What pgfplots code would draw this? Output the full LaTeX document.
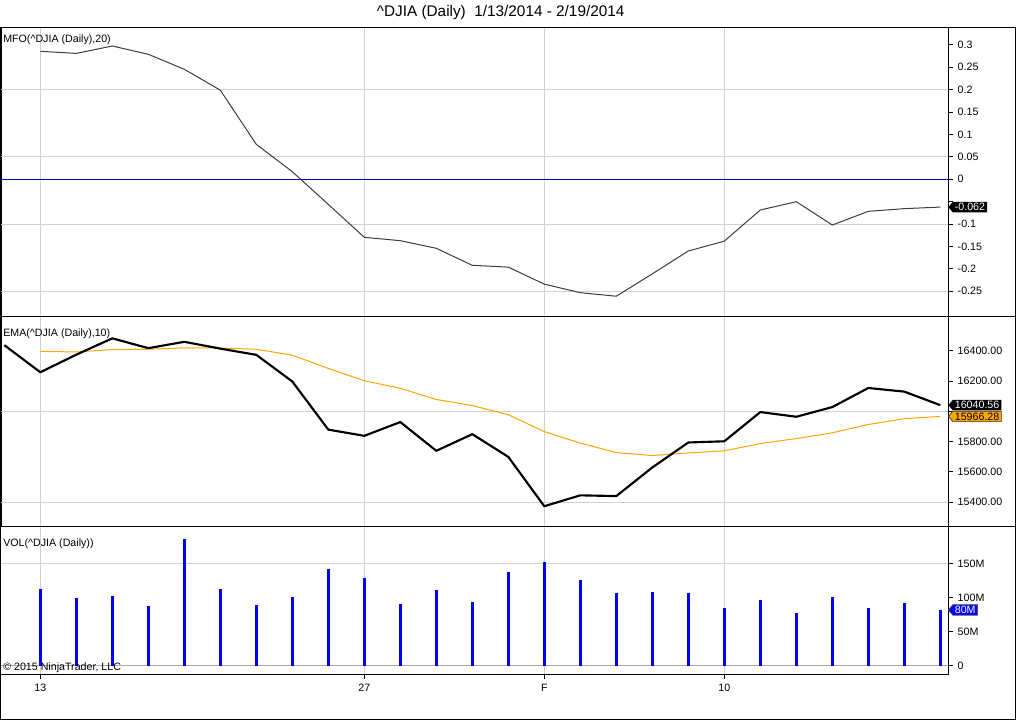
\documentclass[border=0pt]{standalone}
\usepackage{pgfplots}
\pgfplotsset{compat=1.18}
\usepackage{fontspec}
\setmainfont{Liberation Sans}
\usetikzlibrary{shapes.symbols}
\definecolor{gridc}{RGB}{212,208,200}
\definecolor{emaor}{RGB}{255,165,0}
\definecolor{zerog}{RGB}{170,170,170}
\definecolor{mfol}{RGB}{60,60,60}
\definecolor{zblue}{RGB}{0,0,200}
\definecolor{vblue}{RGB}{0,0,255}
\newcommand{\ticksize}{\fontsize{8}{9.6}\selectfont}
\tikzset{
  tag/.style={signal, signal to=west, signal pointer angle=100, inner xsep=1.5pt, inner ysep=1.1pt, font=\ticksize, anchor=west, line width=0.5pt},
}
\pgfplotsset{
  panel/.style={
    scale only axis, width=710.25pt, anchor=north west,
    xmin=-1.0917, xmax=25.214,
    axis line style={line width=0.75pt},
    xtick={0,9,14,19}, xmajorgrids,
    major grid style={color=gridc, line width=0.75pt},
    ytick pos=right, yticklabel pos=right,
    tick align=outside, major tick length=3.75pt,
    every tick/.style={black, line width=0.75pt},
    tick label style={font=\ticksize},
    /pgf/number format/assume math mode=true,
    scaled y ticks=false, scaled x ticks=false,
    clip=false,
    extra y tick labels={},
    extra y tick style={grid=major, tick style={draw=none}},
  },
  notx/.style={xticklabels={}, xtick style={draw=none}},
}
\begin{document}
\begin{tikzpicture}
\path[use as bounding box] (0,0) rectangle (762pt,-540pt);
\node[font=\fontsize{11.5}{13}\selectfont] at (375.5pt,-9.2pt) {\^{}DJIA (Daily)\ \ 1/13/2014 - 2/19/2014};

% ---------- MFO panel ----------
\begin{axis}[panel, notx, at={(0.75pt,-20.625pt)}, height=216.375pt,
  ymin=-0.3051, ymax=0.3388,
  ytick={-0.25,-0.2,-0.15,-0.1,-0.05,0,0.05,0.1,0.15,0.2,0.25,0.3},
  yticklabels={-0.25,-0.2,-0.15,-0.1,{},0,0.05,0.1,0.15,0.2,0.25,0.3},
  extra y ticks={-0.25,-0.1,0.05,0.2}]
\addplot[zblue, line width=0.75pt] coordinates {(-1.0917,0) (25.214,0)};
\addplot[mfol, line width=0.75pt] coordinates {
(0,0.2857) (1,0.281) (2,0.2975) (3,0.279) (4,0.2455) (5,0.199) (6,0.078) (7,0.017)
(8,-0.056) (9,-0.1295) (10,-0.137) (11,-0.154) (12,-0.192) (13,-0.196) (14,-0.234)
(15,-0.253) (16,-0.261) (17,-0.211) (18,-0.160) (19,-0.138) (20,-0.0685) (21,-0.050)
(22,-0.102) (23,-0.0715) (24,-0.0655) (25,-0.062)};
\node[tag, fill=black, text=white] at (axis cs:25.214,-0.062) {-0.062};
\end{axis}

% ---------- EMA / price panel ----------
\begin{axis}[panel, notx, at={(0.75pt,-237pt)}, height=157.5pt,
  ymin=15242.4, ymax=16629.5,
  ytick={15400,15600,15800,16000,16200,16400},
  yticklabels={15400.00,15600.00,15800.00,{},16200.00,16400.00},
  extra y ticks={15400,16000}]
\addplot[emaor, line width=0.75pt] coordinates {
(0,16396) (1,16392) (2,16408) (3,16410) (4,16419) (5,16418) (6,16410) (7,16371)
(8,16283) (9,16202) (10,16152) (11,16078) (12,16038) (13,15977) (14,15866)
(15,15790) (16,15727) (17,15708) (18,15725) (19,15739) (20,15787) (21,15820)
(22,15858) (23,15913) (24,15951) (25,15966.28)};
\addplot[black, line width=1.6pt, line join=round] coordinates {
(-1,16437) (0,16258) (1,16374) (2,16482) (3,16417) (4,16459) (5,16414) (6,16373)
(7,16197) (8,15879) (9,15838) (10,15929) (11,15739) (12,15849) (13,15699)
(14,15373) (15,15445) (16,15440) (17,15629) (18,15794) (19,15802) (20,15995)
(21,15964) (22,16028) (23,16154) (24,16130) (25,16040.56)};
\node[tag, fill=black, text=white] at (axis cs:25.214,16040.56) {16040.56};
\node[tag, fill=emaor, draw=black!80, text=black] at (axis cs:25.214,15966.28) {15966.28};
\end{axis}

% ---------- Volume panel ----------
\begin{axis}[panel, at={(0.75pt,-394.5pt)}, height=111.2pt,
  ymin=-12.6, ymax=204.8,
  ytick={0,50,100,150}, yticklabels={0,50M,100M,150M},
  extra y ticks={150},
  xticklabels={13,27,F,10}, xtick pos=bottom]
\addplot[zerog, line width=1pt] coordinates {(-1.0917,0) (25.214,0)};
\addplot[ycomb, vblue, line width=2.25pt] coordinates {
(0,112.5) (1,99.3) (2,102.2) (3,87.5) (4,185.8) (5,112.5) (6,89) (7,100.7)
(8,141.8) (9,128.6) (10,90.5) (11,111) (12,93.4) (13,137.4) (14,152)
(15,125.7) (16,106.6) (17,108) (18,106.6) (19,84.6) (20,96.3) (21,77.3)
(22,100.7) (23,84.6) (24,91.9) (25,81.7)};
\node[tag, fill=vblue, draw=black!70, text=white] at (axis cs:25.214,81.7) {80M};
\end{axis}

% ---------- frame and panel labels ----------
\draw[line width=0.75pt] (0.375pt,-20.625pt) rectangle (761.625pt,-539.625pt);
\draw[line width=0.75pt] (0,-237pt) -- (762pt,-237pt);
\draw[line width=0.75pt] (0,-394.5pt) -- (762pt,-394.5pt);
\node[font=\ticksize, anchor=west, inner sep=0pt] at (2.25pt,-29.5pt) {MFO(\^{}DJIA (Daily),20)};
\node[font=\ticksize, anchor=west, inner sep=0pt] at (2.25pt,-250.5pt) {EMA(\^{}DJIA (Daily),10)};
\node[font=\ticksize, anchor=west, inner sep=0pt] at (2.25pt,-408pt) {VOL(\^{}DJIA (Daily))};
\node[font=\ticksize, anchor=west, inner sep=0pt] at (2.25pt,-500.5pt) {© 2015 NinjaTrader, LLC};
\end{tikzpicture}
\end{document}
